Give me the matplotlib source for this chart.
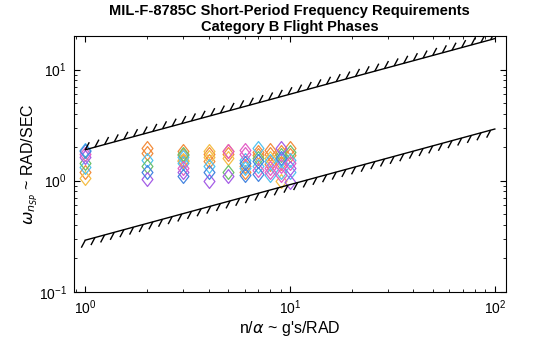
import numpy as np
import matplotlib
matplotlib.use("Agg")
import matplotlib.pyplot as plt
from matplotlib.collections import LineCollection
from matplotlib.path import Path

plt.rcParams['font.family'] = ['Liberation Sans', 'DejaVu Sans']
plt.rcParams['mathtext.fontset'] = 'dejavusans'

# boundary lines: omega^2 / (n/alpha) limits, Category B
upper_ratio = 3.6
lower_ratio = 0.085
n_alpha_line = [1.0, 100.0]

# test points (n/alpha, omega_nsp) grouped by colour
orange_n = [1, 2, 2, 3, 3, 3, 4, 4, 5, 5, 6, 6, 7, 7, 8, 8, 8, 9, 9, 10, 10]
orange_w = [1.2, 1.95, 1.78, 1.85, 1.7, 1.5, 1.75, 1.5, 1.85, 1.75, 1.35, 1.2,
            1.8, 1.7, 1.9, 1.75, 1.4, 1.8, 1.45, 1.95, 1.7]
yellow_n = [1, 3, 4, 4, 5, 8, 9]
yellow_w = [1.05, 1.55, 1.85, 1.65, 1.6, 1.6, 1.0]
ltblue_n = [1, 1, 2, 3, 3, 4, 6, 6, 7, 7, 8, 8, 9, 9, 10, 10]
ltblue_w = [1.9, 1.32, 1.55, 1.62, 1.45, 1.35, 1.55, 1.3, 1.95, 1.35, 1.5, 1.12,
            1.55, 1.2, 1.55, 1.2]
green_n = [1, 2, 3, 5, 7, 9, 10]
green_w = [1.45, 1.35, 1.75, 1.2, 1.6, 1.7, 1.8]
purple_n = [1, 2, 3, 4, 5, 9, 10, 10]
purple_w = [1.65, 1.04, 1.2, 1.0, 1.1, 1.95, 1.3, 0.98]
magenta_n = [1, 3, 5, 6, 6, 7, 8, 8, 9, 9, 10]
magenta_w = [1.75, 1.3, 1.85, 1.9, 1.75, 1.25, 1.3, 1.2, 1.35, 1.12, 1.45]
blue_n = [1, 2, 3, 4, 6, 6, 7, 7, 9]
blue_w = [1.85, 1.2, 1.1, 1.2, 1.45, 1.12, 1.5, 1.15, 1.6]

groups = [
    (orange_n, orange_w, '#f28c3c'),
    (yellow_n, yellow_w, '#f5be45'),
    (ltblue_n, ltblue_w, '#52c2f0'),
    (green_n, green_w, '#6cc06c'),
    (purple_n, purple_w, '#a55ee6'),
    (magenta_n, magenta_w, '#e35fc8'),
    (blue_n, blue_w, '#4585e0'),
]

# diamond a bit narrower than tall
diamond = Path([(0, 1), (0.78, 0), (0, -1), (-0.78, 0), (0, 1)], closed=True)

fig = plt.figure(figsize=(5.6, 3.37), dpi=100)
ax = fig.add_axes([0.132, 0.134, 0.771, 0.759])
ax.set_xscale('log')
ax.set_yscale('log')
ax.set_xlim(0.88, 113)
ax.set_ylim(0.1, 20)

for n, w, c in groups:
    ax.plot(n, w, linestyle='none', marker=diamond, markersize=10,
            markerfacecolor='none', markeredgecolor=c, markeredgewidth=0.9)


def hatched(x, y, side, step=10.0, length=8.5, tilt=62):
    # line plus short slanted hatches, spaced in screen pixels
    ax.plot(x, y, color='k', lw=1)
    pts = ax.transData.transform(np.column_stack([x, y]))
    p0, p1 = pts[0], pts[-1]
    total = np.hypot(*(p1 - p0))
    a = np.radians(tilt)
    d = np.array([np.cos(a), np.sin(a)]) * length * side
    segs = []
    for s in np.arange(0, total, step):
        p = p0 + (p1 - p0) * s / total
        seg = ax.transData.inverted().transform(np.array([p, p + d]))
        segs.append(seg)
    ax.add_collection(LineCollection(segs, colors='k', linewidths=1.0))


x = np.array(n_alpha_line)
hatched(x, np.sqrt(upper_ratio * x), side=1)
hatched(x, np.sqrt(lower_ratio * x), side=-1)

ax.tick_params(which='both', direction='in', top=True, right=True, labelsize=10)
ax.tick_params(which='major', length=4, pad=5)
ax.tick_params(which='minor', length=2.5)

ax.set_xlabel(r"n/$\alpha$ ~ g's/RAD", fontsize=11.5, labelpad=1)
ax.set_ylabel(r"$\omega_{n_{SP}}$ ~ RAD/SEC", fontsize=11.5, labelpad=-1)
ax.set_title("MIL-F-8785C Short-Period Frequency Requirements\nCategory B Flight Phases",
             fontsize=10.5, fontweight='bold', linespacing=1.1, pad=4)

fig.savefig("out.png", dpi=100)
